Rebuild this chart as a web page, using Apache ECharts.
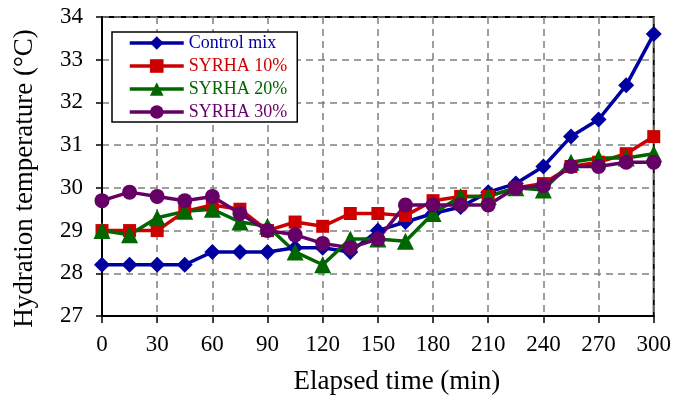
<!DOCTYPE html>
<html>
<head>
<meta charset="utf-8">
<script src="https://cdn.jsdelivr.net/npm/echarts@6/dist/echarts.min.js"></script>
<style>html,body{margin:0;padding:0;background:#fff;}#c{width:674px;height:400px;}</style>
</head>
<body>
<div id="c"></div>
<script>
var time = [0,15,30,45,60,75,90,105,120,135,150,165,180,195,210,225,240,255,270,285,300];
var controlMix = [28.2,28.2,28.2,28.2,28.5,28.5,28.5,28.6,28.6,28.5,29.0,29.2,29.4,29.55,29.9,30.1,30.5,31.2,31.6,32.4,33.6];
var syrha10 = [29.0,29.0,29.0,29.45,29.6,29.5,29.0,29.2,29.1,29.4,29.4,29.35,29.7,29.8,29.8,30.0,30.1,30.5,30.6,30.8,31.2];
var syrha20 = [29.0,28.9,29.3,29.45,29.5,29.2,29.1,28.5,28.2,28.8,28.8,28.75,29.4,29.8,29.8,30.0,29.95,30.6,30.7,30.7,30.8];
var syrha30 = [29.7,29.9,29.8,29.7,29.8,29.4,29.0,28.9,28.7,28.6,28.8,29.6,29.6,29.6,29.6,30.0,30.05,30.5,30.5,30.6,30.6];
var seriesNames = ['Control mix','SYRHA 10%','SYRHA 20%','SYRHA 30%'];
var xTicks = {min:0, max:300, interval:30};
var yTicks = {min:27, max:34, interval:1};

var colors = ['#0000A0','#CC0000','#006600','#660066'];
var symbols = ['diamond','rect','triangle','circle'];
var sizes = [16,13,17,15];
var allValues = [controlMix, syrha10, syrha20, syrha30];
var font = 'Liberation Serif, Times New Roman, serif';

function pairs(vals){ return time.map(function(t,i){ return [t, vals[i]]; }); }

var series = seriesNames.map(function(n,i){
  return {
    name: n, type: 'line', data: pairs(allValues[i]),
    symbol: symbols[i], symbolSize: sizes[i],
    lineStyle: {color: colors[i], width: 3.5},
    itemStyle: {color: colors[i]},
    animation: false
  };
});

var chart = echarts.init(document.getElementById('c'));
chart.setOption({
  animation: false,
  grid: {left: 102, right: 19, top: 17, bottom: 83, show: true, borderColor: '#000', borderWidth: 2, backgroundColor: 'transparent'},
  legend: {
    orient: 'vertical', left: 112, top: 32,
    backgroundColor: '#fff', borderColor: '#000', borderWidth: 1.5,
    padding: [2, 10, 1, 16], itemWidth: 54, itemHeight: 17, itemGap: 5,
    lineStyle: {width: 3.5},
    textStyle: {fontFamily: font, fontSize: 18},
    data: seriesNames.map(function(n,i){ return {name: n, textStyle: {color: colors[i]}}; })
  },
  xAxis: {
    type: 'value', min: xTicks.min, max: xTicks.max, interval: xTicks.interval,
    name: 'Elapsed time (min)', nameLocation: 'middle', nameGap: 52,
    nameTextStyle: {fontFamily: font, fontSize: 27, color: '#000', padding: [0,0,0,38]},
    axisLine: {lineStyle: {color: '#000', width: 2}},
    axisTick: {show: true, length: 7, lineStyle: {color: '#000', width: 1.5}},
    axisLabel: {fontFamily: font, fontSize: 23, color: '#000', margin: 17},
    splitLine: {show: true, lineStyle: {color: '#808080', width: 1.5, type: [7,5]}}
  },
  yAxis: {
    type: 'value', min: yTicks.min, max: yTicks.max, interval: yTicks.interval,
    name: 'Hydration temperature (°C)', nameLocation: 'middle', nameGap: 64,
    nameTextStyle: {fontFamily: font, fontSize: 27, color: '#000', padding: [0,24,0,0]},
    axisLine: {show: true, lineStyle: {color: '#000', width: 2}},
    axisTick: {show: true, length: 6, lineStyle: {color: '#000', width: 1.5}},
    axisLabel: {fontFamily: font, fontSize: 23, color: '#000', margin: 19},
    splitLine: {show: true, lineStyle: {color: '#808080', width: 1.5, type: [7,5]}}
  },
  series: series
});
</script>
</body>
</html>
